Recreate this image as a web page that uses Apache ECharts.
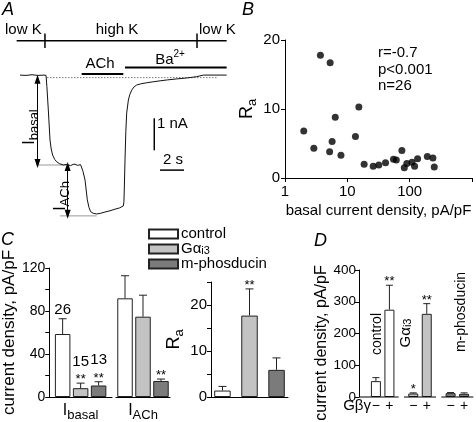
<!DOCTYPE html>
<html><head><meta charset="utf-8">
<script src="https://cdn.jsdelivr.net/npm/echarts@6/dist/echarts.min.js"></script>
<style>html,body{margin:0;padding:0;background:#fff}#c{width:476px;height:422px}</style>
</head><body><div id="c"></div>
<script>
const FONT = "'Liberation Sans', Arial, sans-serif";

// ---------- Panel A: current trace (time in s, current in nA)
const traceTime = [0, 0.5, 1.0, 1.5, 2.0, 2.17, 2.24, 2.36, 2.5, 2.6, 2.72, 2.9, 3.06, 3.3, 3.61, 3.9, 4.2, 4.5, 4.8, 5.05, 5.14, 5.25, 5.42, 5.61, 5.75, 5.89, 6.1, 6.39, 6.7, 7.08, 7.5, 7.92, 8.3, 8.61, 8.66, 8.69, 8.75, 8.82, 8.89, 9.03, 9.15, 9.31, 9.5, 9.72, 10.1, 10.56, 11.1, 11.67, 12.3, 13.06, 13.9, 14.72, 15.28, 16.0, 17.22];
const traceCurrent = [0.06, 0.05, 0.07, 0.05, 0.06, 0.05, -0.3, -1.03, -1.97, -2.25, -2.44, -2.58, -2.65, -2.71, -2.75, -2.73, -2.77, -2.72, -2.76, -2.74, -2.78, -2.95, -3.22, -3.84, -4.08, -4.21, -4.26, -4.28, -4.26, -4.22, -4.18, -4.13, -4.09, -4.03, -3.9, -3.53, -2.59, -1.7, -1.13, -0.72, -0.55, -0.41, -0.31, -0.25, -0.21, -0.18, -0.15, -0.12, -0.09, -0.06, -0.03, 0.01, 0.06, 0.06, 0.06];
const solutionLabels = ['low K', 'high K', 'low K'];
const solutionPeriod = [-0.28, 17.22];
const solutionLevel = [1.13];
const switchTimes = [2.08, 14.75];
const achPeriod = [5.14, 8.61];
const baPeriod = [8.75, 17.22];
const zeroLevel = [-0.02];
const basalLevel = [-2.75];
const achLevel = [-4.34];
const scaleBarTime = [2];      // s
const scaleBarCurrent = [1];   // nA

// ---------- Panel B: Ra vs basal current density
const basalDensity = [2.0, 2.9, 3.7, 5.3, 5.2, 5.7, 6.4, 7.9, 13.5, 15.3, 18.6, 26, 32, 41, 55, 61, 75, 82, 90, 109, 120, 134, 192, 236, 248];
const raValues     = [6.8, 4.3, 17.8, 16.7, 3.8, 5.3, 8.8, 3.3, 6.0, 10.3, 2.0, 1.7, 1.9, 2.2, 2.7, 2.6, 4.0, 1.5, 2.1, 2.3, 1.7, 2.8, 3.1, 2.9, 1.6];
const statLines = ['r=-0.7', 'p<0.001', 'n=26'];
const bXTicks = [1, 10, 100];

// ---------- Panel C
const groupNames = ['control', 'Gαi3', 'm-phosducin'];
const cMeasures = ['basal', 'ACh'];
const basalMean = [58.6, 8.2, 10.7];
const basalSem  = [14.2, 4.7, 3.5];
const achMean   = [91.8, 74.7, 14.9];
const achSem    = [21, 20, 1.8];
const raMean    = [1.4, 17.7, 5.9];
const raSem     = [0.9, 5.8, 2.6];
const cellCounts = ['26', '15', '13'];
const basalSig = ['', '**', '**'];
const achSig   = ['', '', '**'];
const raSig    = ['', '**', ''];

// ---------- Panel D
const dGroups = ['control', 'Gαi3', 'm-phosducin'];
const gbgSigns = ['−', '+'];
const gbgMinusMean = [50, 11, 12];
const gbgMinusSem  = [11, 2, 2];
const gbgPlusMean  = [275, 262, 10];
const gbgPlusSem   = [77, 32, 3];
const gbgMinusSig  = ['', '*', ''];
const gbgPlusSig   = ['**', '**', ''];

// ---------- styles
const groupColors = ['#ffffff', '#c3c3c3', '#7b7b7b'];
const EDGE = '#222';
const RICH = {
  t:  {fontSize: 15, fontFamily: FONT, color: '#000', lineHeight: 22},
  s:  {fontSize: 11, fontFamily: FONT, color: '#000', lineHeight: 11, verticalAlign: 'bottom'},
  T:  {fontSize: 16, fontFamily: FONT, color: '#000', lineHeight: 22},
  S:  {fontSize: 13, fontFamily: FONT, color: '#000', lineHeight: 13, verticalAlign: 'bottom'},
  R:  {fontSize: 18, fontFamily: FONT, color: '#000', lineHeight: 24},
  Ra: {fontSize: 13, fontFamily: FONT, color: '#000', lineHeight: 12, verticalAlign: 'bottom'},
  p:  {fontSize: 10, fontFamily: FONT, color: '#000', lineHeight: 10, verticalAlign: 'top'},
  lt: {fontSize: 15, fontFamily: FONT, color: '#000', lineHeight: 14},
  ls: {fontSize: 11, fontFamily: FONT, color: '#000', lineHeight: 8, verticalAlign: 'bottom'}
};

function segSeries(data, style) {
  return {
    type: 'custom', xAxisIndex: 0, yAxisIndex: 0, silent: true, z: 4,
    data: data,
    renderItem: function (params, api) {
      const p1 = api.coord([api.value(0), api.value(1)]);
      const p2 = api.coord([api.value(2), api.value(3)]);
      return {type: 'line', shape: {x1: p1[0], y1: p1[1], x2: p2[0], y2: p2[1]}, style: Object.assign({fill: null}, style)};
    }
  };
}

function errSeries(axisIdx, means, sems, sigs, counts, pitch) {
  return {
    type: 'custom', xAxisIndex: axisIdx, yAxisIndex: axisIdx, silent: true, z: 5,
    data: means.map((m, i) => [0, m, sems[i]]),
    renderItem: function (params, api) {
      const i = params.dataIndex;
      const m = api.value(1), e = api.value(2);
      const b = api.coord([0, m]);
      const t = api.coord([0, m + e]);
      const x = b[0] + (i - 1) * pitch;
      const kids = [
        {type: 'line', shape: {x1: x, y1: b[1], x2: x, y2: t[1]}, style: {stroke: EDGE, lineWidth: 1}},
        {type: 'line', shape: {x1: x - 4, y1: t[1], x2: x + 4, y2: t[1]}, style: {stroke: EDGE, lineWidth: 1}}
      ];
      let yTop = t[1] - 1;
      if (sigs && sigs[i]) {
        kids.push({type: 'text', x: x, y: yTop + 4, style: {text: sigs[i], fontSize: 13, fontFamily: FONT, fill: '#000', align: 'center', verticalAlign: 'bottom'}});
        yTop -= 13;
      }
      if (counts && counts[i]) {
        kids.push({type: 'text', x: x, y: yTop, style: {text: counts[i], fontSize: 15, fontFamily: FONT, fill: '#000', align: 'center', verticalAlign: 'bottom'}});
      }
      return {type: 'group', children: kids};
    }
  };
}

function barSeries(axisIdx, i, value, width, gap) {
  return {
    type: 'bar', name: groupNames[i], xAxisIndex: axisIdx, yAxisIndex: axisIdx,
    data: [value], barWidth: width, barGap: gap, silent: true,
    itemStyle: {color: groupColors[i], borderColor: EDGE, borderWidth: 1}
  };
}

const axisBlack = {lineStyle: {color: '#000', width: 1}};
const tickOut = {show: true, length: 4, lineStyle: {color: '#000'}};

const option = {
  animation: false,
  backgroundColor: '#fff',
  textStyle: {fontFamily: FONT},
  grid: [
    {left: 14, top: 29, width: 216, height: 192},
    {left: 285, top: 40, width: 187, height: 138},
    {left: 45, top: 268, width: 67, height: 129},
    {left: 116, top: 268, width: 54, height: 129},
    {left: 211, top: 282, width: 77, height: 115},
    {left: 364, top: 270, width: 115.5, height: 127}
  ],
  legend: {
    data: groupNames, orient: 'vertical', left: 148, top: 226.5, padding: 0,
    itemWidth: 29, itemHeight: 9, itemGap: 0, icon: 'rect', selectedMode: false,
    formatter: n => n === 'Gαi3' ? '{lt|Gα}{ls|i3}' : '{lt|' + n + '}',
    textStyle: {color: '#000', fontSize: 15, fontFamily: FONT, padding: [0, 0, 0, -2], rich: RICH}
  },
  xAxis: [
    {gridIndex: 0, type: 'value', min: -0.5, max: 17.5, show: false},
    {gridIndex: 1, type: 'log', logBase: 10, min: 1, max: 1000,
      axisLine: axisBlack, axisTick: tickOut, splitLine: {show: false}, minorTick: {show: false},
      axisLabel: {color: '#000', fontSize: 15, margin: 6, formatter: v => bXTicks.indexOf(v) >= 0 ? String(v) : ''},
      name: 'basal current density, pA/pF', nameLocation: 'middle', nameGap: 25,
      nameTextStyle: {color: '#000', fontSize: 15}},
    {gridIndex: 2, type: 'category', data: [cMeasures[0]], axisLine: axisBlack, axisTick: {show: false},
      axisLabel: {margin: 3, formatter: v => '{T|I}{S|' + v + '}', rich: RICH}},
    {gridIndex: 3, type: 'category', data: [cMeasures[1]], axisLine: axisBlack, axisTick: {show: false},
      axisLabel: {margin: 3, formatter: v => '{T|I}{S|' + v + '}', rich: RICH}},
    {gridIndex: 4, type: 'category', data: ['Ra'], axisLine: axisBlack, axisTick: {show: false}, axisLabel: {show: false}},
    {gridIndex: 5, type: 'category', data: dGroups, show: false}
  ],
  yAxis: [
    {gridIndex: 0, type: 'value', min: -4.5, max: 1.5, show: false},
    {gridIndex: 1, type: 'value', min: 0, max: 20, interval: 10,
      axisLine: Object.assign({show: true}, axisBlack), axisTick: tickOut, splitLine: {show: false},
      axisLabel: {color: '#000', fontSize: 15, margin: 5},
      name: '{R|R}{Ra|a}', nameLocation: 'middle', nameRotate: 90, nameGap: 24,
      nameTextStyle: {rich: RICH}},
    {gridIndex: 2, type: 'value', min: 0, max: 120, interval: 20,
      axisLine: Object.assign({show: true}, axisBlack), axisTick: tickOut, splitLine: {show: false},
      axisLabel: {color: '#000', fontSize: 14, margin: 4, formatter: v => v % 40 === 0 ? String(v) : ''},
      name: 'current density, pA/pF', nameLocation: 'middle', nameGap: 27,
      nameTextStyle: {color: '#000', fontSize: 17}},
    {gridIndex: 3, type: 'value', min: 0, max: 120, show: false},
    {gridIndex: 4, type: 'value', min: 0, max: 25, interval: 5,
      axisLine: Object.assign({show: true}, axisBlack), axisTick: tickOut, splitLine: {show: false},
      axisLabel: {color: '#000', fontSize: 15, margin: 4, formatter: v => v % 10 === 0 ? String(v) : ''},
      name: '{R|R}{Ra|a}', nameLocation: 'middle', nameRotate: 90, nameGap: 23,
      nameTextStyle: {rich: RICH}},
    {gridIndex: 5, type: 'value', min: 0, max: 400, interval: 100, offset: 5,
      axisLine: Object.assign({show: true}, axisBlack), axisTick: tickOut, splitLine: {show: false},
      axisLabel: {color: '#000', fontSize: 13.5, margin: 3}}
  ],
  series: [
    // Panel A trace
    {type: 'line', xAxisIndex: 0, yAxisIndex: 0, showSymbol: false, silent: true, z: 6,
      data: traceTime.map((t, i) => [t, traceCurrent[i]]),
      lineStyle: {color: '#111', width: 1},
      markLine: {silent: true, symbol: ['triangle', 'triangle'], symbolSize: [6, 9], label: {show: false},
        lineStyle: {color: '#000', type: 'solid', width: 1},
        data: [
          [{coord: [1.46, zeroLevel[0] - 0.05]}, {coord: [1.46, basalLevel[0] + 0.05]}],
          [{coord: [3.97, basalLevel[0] - 0.05]}, {coord: [3.97, achLevel[0] + 0.05]}]
        ]}},
    segSeries([[solutionPeriod[0], solutionLevel[0], solutionPeriod[1], solutionLevel[0]]].concat(
      switchTimes.map(t => [t, solutionLevel[0] + 0.23, t, solutionLevel[0] - 0.22])), {stroke: '#000', lineWidth: 1.5}),
    segSeries([[achPeriod[0], 0.09, achPeriod[1], 0.09], [baPeriod[0], 0.30, baPeriod[1], 0.30]], {stroke: '#000', lineWidth: 2}),
    segSeries([[2.25, zeroLevel[0], 16.4, zeroLevel[0]]], {stroke: '#555', lineWidth: 0.8, lineDash: [1.5, 1.5]}),
    segSeries([[1.39, basalLevel[0], 3.9, basalLevel[0]], [3.33, achLevel[0], 6.39, achLevel[0]]], {stroke: '#999', lineWidth: 1}),
    segSeries([[11.19, -1.29, 11.19, -1.29 - scaleBarCurrent[0]], [11.67, -2.91, 11.67 + scaleBarTime[0], -2.91]], {stroke: '#000', lineWidth: 1.5}),

    // Panel B
    {type: 'scatter', xAxisIndex: 1, yAxisIndex: 1, symbolSize: 7, silent: true,
      itemStyle: {color: '#000'}, data: basalDensity.map((x, i) => [x, raValues[i]])},

    // Panel C
    barSeries(2, 0, basalMean[0], 15.5, '16%'), barSeries(2, 1, basalMean[1], 15.5, '16%'), barSeries(2, 2, basalMean[2], 15.5, '16%'),
    errSeries(2, basalMean, basalSem, basalSig, cellCounts, 18),
    barSeries(3, 0, achMean[0], 15.5, '16%'), barSeries(3, 1, achMean[1], 15.5, '16%'), barSeries(3, 2, achMean[2], 15.5, '16%'),
    errSeries(3, achMean, achSem, achSig, null, 18),
    barSeries(4, 0, raMean[0], 16.5, '64%'), barSeries(4, 1, raMean[1], 16.5, '64%'), barSeries(4, 2, raMean[2], 16.5, '64%'),
    errSeries(4, raMean, raSem, raSig, null, 27),

    // Panel D
    {type: 'bar', name: 'minus', xAxisIndex: 5, yAxisIndex: 5, barWidth: 10, barGap: '35%', silent: true,
      data: gbgMinusMean.map((v, i) => ({value: v, itemStyle: {color: groupColors[i], borderColor: EDGE, borderWidth: 1}}))},
    {type: 'bar', name: 'plus', xAxisIndex: 5, yAxisIndex: 5, barWidth: 10, barGap: '35%', silent: true,
      data: gbgPlusMean.map((v, i) => ({value: v, itemStyle: {color: groupColors[i], borderColor: EDGE, borderWidth: 1}}))},
    {type: 'custom', xAxisIndex: 5, yAxisIndex: 5, silent: true, z: 5,
      data: dGroups.map((g, i) => [i, 0]),
      renderItem: function (params, api) {
        const i = api.value(0);
        const c = api.coord([i, 0]);
        const x0 = i === 0 ? params.coordSys.x - 5 : c[0] - 16;
        return {type: 'line', shape: {x1: x0, y1: c[1], x2: c[0] + 16, y2: c[1]}, style: {stroke: '#000', lineWidth: 1}};
      }},
    {type: 'custom', xAxisIndex: 5, yAxisIndex: 5, silent: true, z: 5,
      data: dGroups.map((g, i) => [i, gbgMinusMean[i], gbgMinusSem[i], 0]).concat(dGroups.map((g, i) => [i, gbgPlusMean[i], gbgPlusSem[i], 1])),
      renderItem: function (params, api) {
        const i = api.value(0), m = api.value(1), e = api.value(2), s = api.value(3);
        const b = api.coord([i, m]), t = api.coord([i, m + e]), z = api.coord([i, 0]);
        const x = b[0] + (s === 0 ? -6.75 : 6.75);
        const sig = s === 0 ? gbgMinusSig[i] : gbgPlusSig[i];
        const kids = [
          {type: 'line', shape: {x1: x, y1: b[1], x2: x, y2: t[1]}, style: {stroke: EDGE, lineWidth: 1}},
          {type: 'line', shape: {x1: x - 3.5, y1: t[1], x2: x + 3.5, y2: t[1]}, style: {stroke: EDGE, lineWidth: 1}},
          {type: 'text', x: x, y: z[1] + 9, style: {text: gbgSigns[s], fontSize: 14, fontFamily: FONT, fill: '#000', align: 'center', verticalAlign: 'middle'}}
        ];
        if (sig) kids.push({type: 'text', x: x, y: t[1] + 3, style: {text: sig, fontSize: 13, fontFamily: FONT, fill: '#000', align: 'center', verticalAlign: 'bottom'}});
        return {type: 'group', children: kids};
      }}
  ],
  graphic: [
    {type: 'text', x: 2, y: 1, style: {text: 'A', fontSize: 18, fontStyle: 'italic', fontFamily: FONT, fill: '#000'}},
    {type: 'text', x: 242, y: 1, style: {text: 'B', fontSize: 18, fontStyle: 'italic', fontFamily: FONT, fill: '#000'}},
    {type: 'text', x: 1, y: 231, style: {text: 'C', fontSize: 18, fontStyle: 'italic', fontFamily: FONT, fill: '#000'}},
    {type: 'text', x: 314, y: 232, style: {text: 'D', fontSize: 18, fontStyle: 'italic', fontFamily: FONT, fill: '#000'}},
    {type: 'text', x: 5, y: 30, style: {text: solutionLabels[0], fontSize: 15, fontFamily: FONT, fill: '#000', align: 'left', verticalAlign: 'middle'}},
    {type: 'text', x: 117, y: 30, style: {text: solutionLabels[1], fontSize: 15, fontFamily: FONT, fill: '#000', align: 'center', verticalAlign: 'middle'}},
    {type: 'text', x: 199, y: 30, style: {text: solutionLabels[2], fontSize: 15, fontFamily: FONT, fill: '#000', align: 'left', verticalAlign: 'middle'}},
    {type: 'text', x: 100, y: 64, style: {text: 'ACh', fontSize: 15, fontFamily: FONT, fill: '#000', align: 'center', verticalAlign: 'middle'}},
    {type: 'text', x: 170, y: 60, style: {text: '{t|Ba}{p|2+}', rich: RICH, fill: '#000', align: 'center', verticalAlign: 'middle'}},
    {type: 'text', x: 157, y: 124, style: {text: '1 nA', fontSize: 15, fontFamily: FONT, fill: '#000', align: 'left', verticalAlign: 'middle'}},
    {type: 'text', x: 173, y: 160, style: {text: '2 s', fontSize: 15, fontFamily: FONT, fill: '#000', align: 'center', verticalAlign: 'middle'}},
    {type: 'text', x: 30, y: 127, rotation: Math.PI / 2, style: {text: '{T|I}{S|basal}', rich: RICH, align: 'center', verticalAlign: 'middle'}},
    {type: 'text', x: 61, y: 196, rotation: Math.PI / 2, style: {text: '{T|I}{S|ACh}', rich: RICH, align: 'center', verticalAlign: 'middle'}},
    {type: 'text', x: 378, y: 53, style: {text: statLines[0], fontSize: 15, fontFamily: FONT, fill: '#000', verticalAlign: 'middle'}},
    {type: 'text', x: 378, y: 70, style: {text: statLines[1], fontSize: 15, fontFamily: FONT, fill: '#000', verticalAlign: 'middle'}},
    {type: 'text', x: 378, y: 86, style: {text: statLines[2], fontSize: 15, fontFamily: FONT, fill: '#000', verticalAlign: 'middle'}},
    {type: 'text', x: 322, y: 343, rotation: Math.PI / 2, style: {text: 'current density, pA/pF', fontSize: 16, fontFamily: FONT, fill: '#000', align: 'center', verticalAlign: 'middle'}},
    {type: 'text', x: 371, y: 406, style: {text: 'Gβγ', fontSize: 15, fontFamily: FONT, fill: '#000', align: 'right', verticalAlign: 'middle'}},
    {type: 'text', x: 377, y: 334, rotation: Math.PI / 2, style: {text: dGroups[0], fontSize: 14, fontFamily: FONT, fill: '#000', align: 'center', verticalAlign: 'middle'}},
    {type: 'text', x: 406, y: 333, rotation: Math.PI / 2, style: {text: '{lt|Gα}{ls|i3}', rich: RICH, align: 'center', verticalAlign: 'middle'}},
    {type: 'text', x: 461, y: 312, rotation: Math.PI / 2, style: {text: dGroups[2], fontSize: 14, fontFamily: FONT, fill: '#000', align: 'center', verticalAlign: 'middle'}}
  ]
};

const chart = echarts.init(document.getElementById('c'), null, {renderer: 'canvas'});
chart.setOption(option);
</script>
</body></html>
